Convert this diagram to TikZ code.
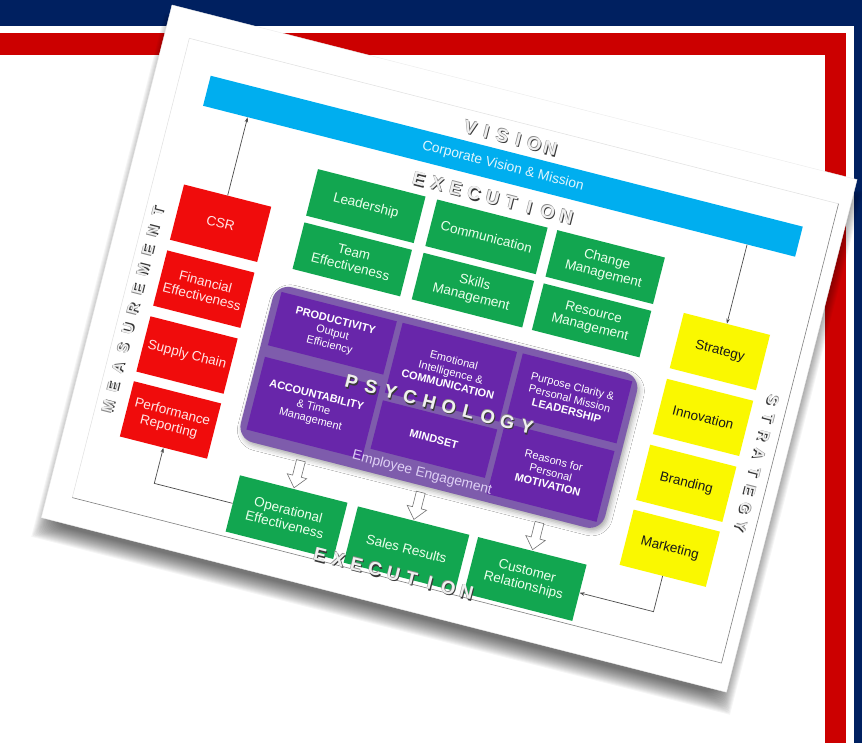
\documentclass[tikz,border=0pt]{standalone}
\usepackage{fontspec}
\setmainfont{Liberation Sans}
\usetikzlibrary{arrows.meta, shadows.blur}

\definecolor{navyband}{RGB}{0,32,96}
\definecolor{frameRed}{RGB}{204,0,0}
\definecolor{barCyan}{RGB}{0,174,239}
\definecolor{boxGreen}{RGB}{18,166,80}
\definecolor{boxRed}{RGB}{240,12,12}
\definecolor{boxYellow}{RGB}{250,248,0}
\definecolor{purpleOuter}{RGB}{126,92,172}
\definecolor{purpleCell}{RGB}{104,38,170}
\definecolor{lavender}{RGB}{222,208,245}

% silver lettering with a dark drop edge
\newcommand\emb[1]{%
  \makebox[0pt][l]{\hspace{1.2pt}\raisebox{-1.2pt}{\color{black!78}#1}}%
  \makebox[0pt][l]{\hspace{-0.5pt}\raisebox{0.5pt}{\color{black!45}#1}}%
  {\color{black!6}#1}}

\tikzset{
  gbox/.style={rectangle, fill=boxGreen, text=green!8, align=center, inner sep=1pt,
    font=\fontsize{13.5}{15}\selectfont},
  rbox/.style={rectangle, fill=boxRed, text=red!10, align=center, inner sep=1pt,
    minimum width=90, minimum height=57, font=\fontsize{13.5}{15}\selectfont},
  ybox/.style={rectangle, fill=boxYellow, text=black!90, align=center, inner sep=1pt,
    minimum width=89, minimum height=57, font=\fontsize{13.5}{15}\selectfont},
  cell/.style={rectangle, fill=purpleCell, text=white, align=center, inner sep=1pt,
    font=\fontsize{11}{12.5}\selectfont},
  biglet/.style={inner sep=0pt, font=\fontsize{18.5}{18.5}\selectfont\bfseries},
  sidelet/.style={inner sep=0pt, font=\fontsize{15}{15}\selectfont\bfseries},
  link/.style={draw=black!70, line width=0.7, -{Stealth[length=5pt,width=3.5pt]}},
  hollowdown/.pic={\draw[draw=black!55, fill=white, line width=0.6]
    (-4.5,-29) -- (4.5,-29) -- (4.5,-13) -- (10,-13) -- (0,-1) -- (-10,-13) -- (-4.5,-13) -- cycle;}
}

\begin{document}
\begin{tikzpicture}[x=1pt, y=-1pt]
\useasboundingbox (0,0) rectangle (862,743);
\clip (0,0) rectangle (862,743);

% page frame
\fill[white] (0,0) rectangle (862,743);
\fill[navyband] (0,0) rectangle (862,26);
\fill[navyband] (854,0) rectangle (862,743);
\fill[frameRed] (0,33) rectangle (846,55);
\fill[frameRed] (825,33) rectangle (846,743);

\begin{scope}[shift={(172,5)}, rotate=-14.3, transform shape]
  % soft shadow under the sheet, built from stacked translucent layers
  \foreach \k in {0,...,17}
    \fill[black, opacity=0.04, rounded corners=\k] ({-5+\k}, {10+\k}) rectangle ({716-\k}, {550-\k});
  % the sheet
  \fill[white, draw=black!8] (0,0) rectangle (707,529);
  \draw[black!12, line width=0.5] (25,502) -- (25,28) -- (695,28);
  \draw[black!50, line width=0.6] (25,502) -- (695,502) -- (695,28);

  % vision bar
  \node[rectangle, fill=barCyan, text=white!88!barCyan, minimum width=611, minimum height=31,
    inner sep=0pt, font=\fontsize{13.8}{15}\selectfont] (vision) at (360.5,74.5)
    {Corporate Vision \& Mission};

  % section titles
  \foreach \ch [count=\i from 0] in {V,I,S,I,O,N}
    \node[biglet] (vis\i) at ({360.7+(\i-2.5)*16.5}, 45.6) {\emb{\ch}};
  \foreach \ch [count=\i from 0] in {E,X,E,C,U,T,I,O,N}
    \node[biglet] (exa\i) at ({358.3+(\i-4)*19}, 108.1) {\emb{\ch}};
  \foreach \ch [count=\i from 0] in {M,E,A,S,U,R,E,M,E,N,T}
    \node[sidelet, rotate=90] (mea\i) at (37.6, {304.4+(5-\i)*20.1}) {\emb{\ch}};
  \foreach \ch [count=\i from 0] in {S,T,R,A,T,E,G,Y}
    \node[sidelet, rotate=-90] (str\i) at (679.8, {299.7+(\i-3.5)*18.6}) {\emb{\ch}};

  % execution, upper rows
  \node[gbox, minimum width=111, minimum height=48] (lead) at (237.5,147) {Leadership};
  \node[gbox, minimum width=114, minimum height=48] (comm) at (362,147) {Communication};
  \node[gbox, minimum width=111, minimum height=48] (chg) at (484.5,147) {Change\\Management};
  \node[gbox, minimum width=111, minimum height=48] (team) at (237.5,202) {Team\\Effectiveness};
  \node[gbox, minimum width=114, minimum height=48] (skill) at (362,202) {Skills\\Management};
  \node[gbox, minimum width=111, minimum height=48] (res) at (484.5,202) {Resource\\Management};

  % measurement column
  \node[rbox] (csr) at (101,199.5) {CSR};
  \node[rbox] (fin) at (101,267.5) {Financial\\Effectiveness};
  \node[rbox] (sup) at (101,335.5) {Supply Chain};
  \node[rbox] (perf) at (101,402.5) {Performance\\Reporting};

  % strategy column
  \node[ybox] (strat) at (616.5,200.5) {Strategy};
  \node[ybox] (innov) at (616.5,268.5) {Innovation};
  \node[ybox] (brand) at (616.5,336.5) {Branding};
  \node[ybox] (mkt) at (616.5,403.5) {Marketing};

  % psychology block
  \node[rectangle, rounded corners=16, fill=purpleOuter, minimum width=376, minimum height=160,
    blur shadow={shadow xshift=2pt, shadow yshift=-3pt, shadow blur radius=5pt, shadow opacity=35}]
    (psych) at (358,324) {};
  \node[cell, minimum width=119, minimum height=55] (prod) at (236.5,278.5)
    {\textbf{PRODUCTIVITY}\\Output\\Efficiency};
  \node[cell, minimum width=119, minimum height=75] (acct) at (236.5,355.5)
    {\textbf{ACCOUNTABILITY}\\\& Time\\Management};
  \node[cell, minimum width=118, minimum height=72] (emo) at (361,287)
    {Emotional\\Intelligence \&\\\textbf{COMMUNICATION}};
  \node[cell, minimum width=118, minimum height=50] (mind) at (361,356) {\textbf{MINDSET}};
  \node[cell, minimum width=113, minimum height=64] (purp) at (482.5,283)
    {Purpose Clarity \&\\Personal Mission\\\textbf{LEADERSHIP}};
  \node[cell, minimum width=113, minimum height=73] (motiv) at (482.5,359.5)
    {Reasons for\\Personal\\\textbf{MOTIVATION}};
  \node[text=lavender, inner sep=0pt, font=\fontsize{13.8}{15}\selectfont] (engage) at (358,392)
    {Employee Engagement};
  \foreach \ch [count=\i from 0] in {P,S,Y,C,H,O,L,O,G,Y}
    \node[biglet] (psy\i) at ({357.7+(\i-4.5)*20.1}, 321.6) {\emb{\ch}};

  % execution, results row
  \node[gbox, minimum width=111, minimum height=58] (opeff) at (237.5,468) {Operational\\Effectiveness};
  \node[gbox, minimum width=115, minimum height=58] (sales) at (361.5,469) {Sales Results};
  \node[gbox, minimum width=112, minimum height=58] (cust) at (484,469) {Customer\\Relationships};
  \pic at (opeff.north) {hollowdown};
  \pic at (sales.north) {hollowdown};
  \pic at (cust.north) {hollowdown};
  \foreach \ch [count=\i from 0] in {E,X,E,C,U,T,I,O,N}
    \node[biglet] (exb\i) at ({355+(\i-4)*18.9}, 496.8) {\emb{\ch}};

  % feedback loop
  \draw[link] (csr.north) -- (csr.north |- vision.south);
  \draw[link] (strat.north |- vision.south) -- (strat.north);
  \draw[link] (opeff.west) -| (perf.south);
  \draw[link] (mkt.south) |- (cust.east);
\end{scope}
\end{tikzpicture}
\end{document}
